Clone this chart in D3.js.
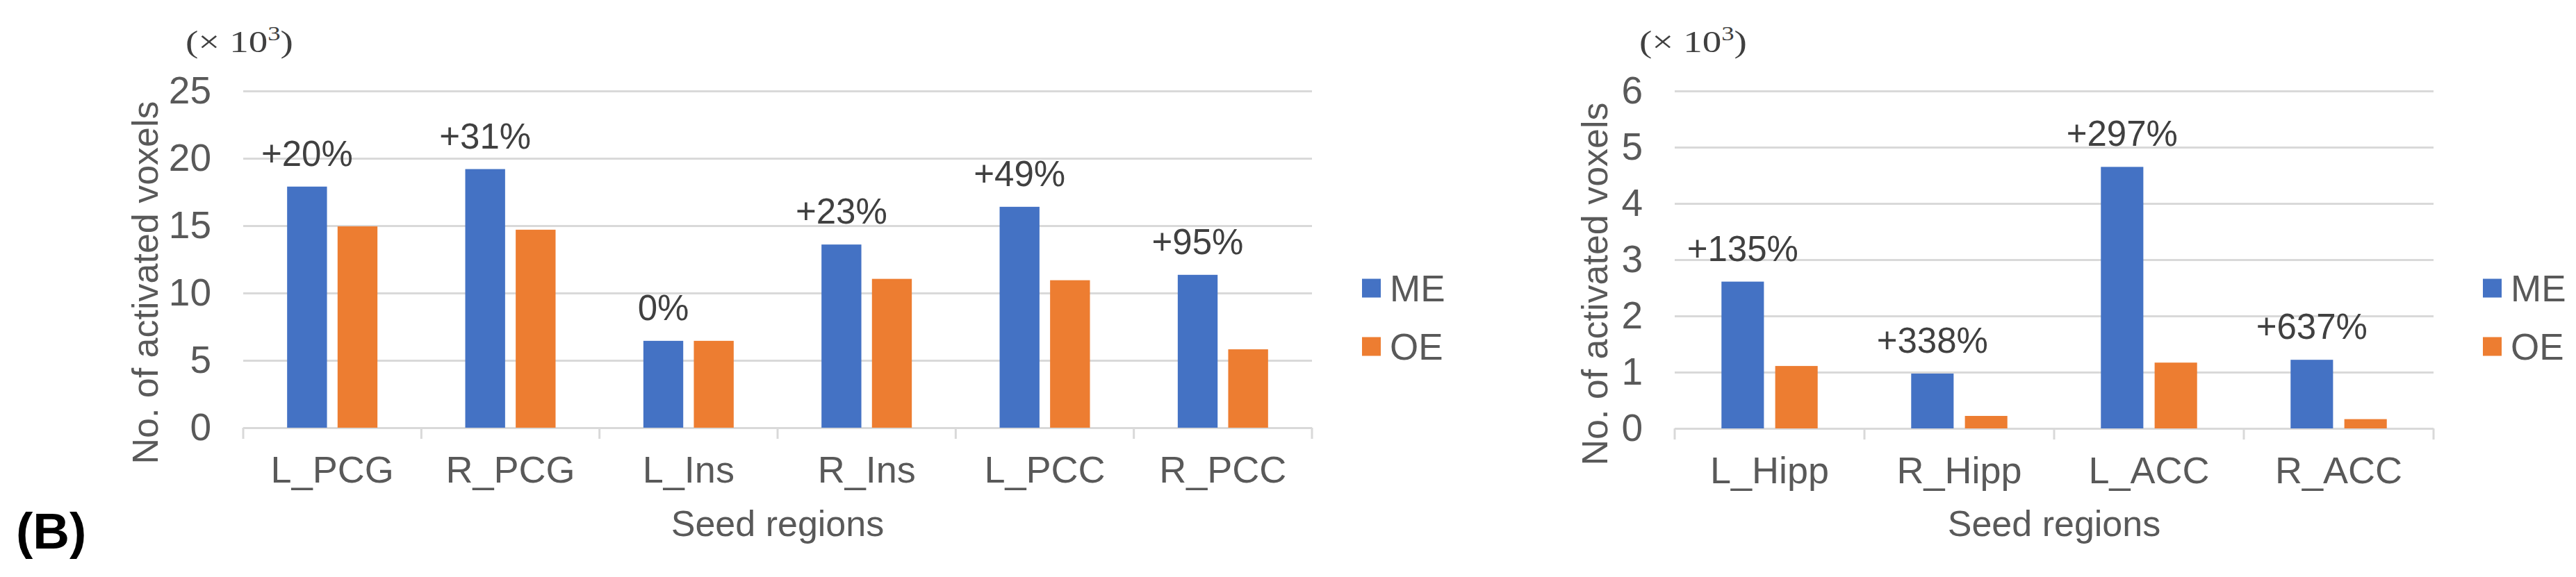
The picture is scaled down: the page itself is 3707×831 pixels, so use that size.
<!DOCTYPE html>
<html>
<head>
<meta charset="utf-8">
<script src="https://cdn.jsdelivr.net/npm/d3@7"></script>
<style>
  body { margin: 0; background: #fff; }
  svg { display: block; }
  text { font-family: "Liberation Sans", Arial, sans-serif; }
</style>
</head>
<body>
<div id="chart"></div>
<script>
var W = 3707, H = 831;

// series
var series = ["ME", "OE"];
var colors = ["#4472C4", "#ED7D31"];

// left panel (x 10^3 voxels)
var leftRegions = ["L_PCG", "R_PCG", "L_Ins", "R_Ins", "L_PCC", "R_PCC"];
var leftME = [17.9, 19.2, 6.45, 13.6, 16.4, 11.35];
var leftOE = [14.95, 14.7, 6.45, 11.05, 10.95, 5.82];
var leftChange = ["+20%", "+31%", "0%", "+23%", "+49%", "+95%"];
var leftTicks = [0, 5, 10, 15, 20, 25];

// right panel (x 10^3 voxels)
var rightRegions = ["L_Hipp", "R_Hipp", "L_ACC", "R_ACC"];
var rightME = [2.61, 0.975, 4.65, 1.22];
var rightOE = [1.11, 0.222, 1.17, 0.165];
var rightChange = ["+135%", "+338%", "+297%", "+637%"];
var rightTicks = [0, 1, 2, 3, 4, 5, 6];

var svg = d3.select("#chart").append("svg")
    .attr("width", W)
    .attr("height", H);

svg.append("rect").attr("width", W).attr("height", H).attr("fill", "#fff");

function drawPanel(opt) {
    var g = svg.append("g");
    var data = opt.regions.map(function(r, i) {
        return { region: r, vals: [opt.me[i], opt.oe[i]], change: opt.change[i] };
    });

    var x0 = d3.scaleBand()
        .domain(opt.regions)
        .range([opt.left, opt.right])
        .paddingInner(0)
        .paddingOuter(0);

    var x1 = d3.scaleBand()
        .domain(series)
        .range([0, x0.bandwidth()])
        .paddingInner(0.21)
        .paddingOuter(0.87);

    var y = d3.scaleLinear()
        .domain([0, d3.max(opt.ticks)])
        .range([opt.bottom, opt.top]);

    // gridlines + tick labels
    var yAxis = g.append("g")
        .attr("transform", "translate(" + opt.left + ",0)")
        .call(d3.axisLeft(y)
            .tickValues(opt.ticks)
            .tickFormat(d3.format("d"))
            .tickSize(-(opt.right - opt.left))
            .tickPadding(46));
    yAxis.select(".domain").remove();
    yAxis.selectAll(".tick line")
        .attr("stroke", "#d9d9d9")
        .attr("stroke-width", 3);
    yAxis.selectAll(".tick text")
        .attr("fill", "#595959")
        .style("font-size", "55px")
        .style("font-family", "'Liberation Sans', Arial, sans-serif");

    // category boundary ticks under the baseline
    var bounds = opt.regions.map(function(r) { return x0(r); }).concat([opt.right]);
    g.selectAll("line.cat")
        .data(bounds)
        .enter().append("line")
        .attr("class", "cat")
        .attr("x1", function(d) { return d; })
        .attr("x2", function(d) { return d; })
        .attr("y1", y(0))
        .attr("y2", y(0) + 16)
        .attr("stroke", "#d9d9d9")
        .attr("stroke-width", 3);

    // category labels
    var xAxis = g.append("g")
        .attr("transform", "translate(0," + y(0) + ")")
        .call(d3.axisBottom(x0).tickSize(0).tickPadding(41));
    xAxis.select(".domain").remove();
    xAxis.selectAll(".tick text")
        .attr("fill", "#595959")
        .attr("dy", "0.71em")
        .style("font-size", "54px")
        .style("font-family", "'Liberation Sans', Arial, sans-serif");

    // bars
    var groups = g.selectAll("g.grp")
        .data(data)
        .enter().append("g")
        .attr("class", "grp")
        .attr("transform", function(d) { return "translate(" + x0(d.region) + ",0)"; });

    groups.selectAll("rect")
        .data(function(d) { return d.vals.map(function(v, i) { return { key: series[i], v: v }; }); })
        .enter().append("rect")
        .attr("x", function(d) { return x1(d.key); })
        .attr("y", function(d) { return y(d.v); })
        .attr("width", x1.bandwidth())
        .attr("height", function(d) { return y(0) - y(d.v); })
        .attr("fill", function(d, i) { return colors[i]; });

    // percent change labels above ME bars
    groups.append("text")
        .attr("x", x1("ME") + x1.bandwidth() / 2)
        .attr("y", function(d) { return y(d.vals[0]) - 30; })
        .attr("text-anchor", "middle")
        .attr("fill", "#404040")
        .style("font-size", "51px")
        .text(function(d) { return d.change; });

    // axis titles
    g.append("text")
        .attr("transform", "translate(" + opt.yTitleX + "," + opt.yTitleY + ") rotate(-90)")
        .attr("text-anchor", "middle")
        .attr("fill", "#595959")
        .style("font-size", "52px")
        .text("No. of activated voxels");

    g.append("text")
        .attr("x", (opt.left + opt.right) / 2)
        .attr("y", 772)
        .attr("text-anchor", "middle")
        .attr("fill", "#595959")
        .style("font-size", "52px")
        .text("Seed regions");

    // unit note
    var unit = g.append("text")
        .attr("x", opt.unitX)
        .attr("y", 75)
        .attr("fill", "#404040")
        .attr("textLength", 155)
        .attr("lengthAdjust", "spacingAndGlyphs")
        .style("font-family", "'Liberation Serif', 'Times New Roman', serif")
        .style("font-size", "45px");
    unit.append("tspan").text("(\u00d7 10");
    unit.append("tspan").attr("dy", -17).style("font-size", "30px").text("3");
    unit.append("tspan").attr("dy", 17).text(")");

    // legend
    var leg = g.selectAll("g.leg")
        .data(series)
        .enter().append("g")
        .attr("class", "leg")
        .attr("transform", function(d, i) { return "translate(" + opt.legendX + "," + (415 + i * 84) + ")"; });
    leg.append("rect")
        .attr("x", 0).attr("y", -13.5)
        .attr("width", 27).attr("height", 27)
        .attr("fill", function(d, i) { return colors[i]; });
    leg.append("text")
        .attr("x", 40)
        .attr("dy", "0.36em")
        .attr("fill", "#595959")
        .style("font-size", "53px")
        .text(function(d) { return d; });
}

drawPanel({
    regions: leftRegions, me: leftME, oe: leftOE, change: leftChange, ticks: leftTicks,
    left: 350, right: 1888, top: 131, bottom: 616,
    yTitleX: 227, yTitleY: 407, unitX: 267, legendX: 1960
});

drawPanel({
    regions: rightRegions, me: rightME, oe: rightOE, change: rightChange, ticks: rightTicks,
    left: 2410, right: 3502, top: 131, bottom: 617,
    yTitleX: 2313, yTitleY: 409, unitX: 2359, legendX: 3573
});

// panel letter
svg.append("text")
    .attr("x", 23)
    .attr("y", 790)
    .attr("fill", "#000")
    .style("font-size", "73px")
    .style("font-weight", "bold")
    .text("(B)");
</script>
</body>
</html>
